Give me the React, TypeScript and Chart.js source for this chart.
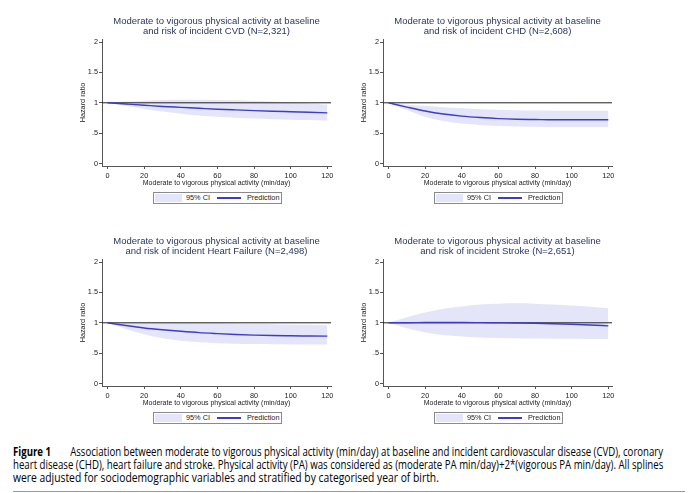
import React, { useEffect, useLayoutEffect, useRef } from "react";
import { Chart, registerables } from "chart.js";

Chart.register(...registerables);

// ---------- data ----------
const xValues = [0, 10, 20, 30, 40, 50, 60, 70, 80, 90, 100, 110, 120];
const xTickStep = 20;
const yTickStep = 0.5;

const cvdPred = [1.0, 0.98, 0.96, 0.94, 0.925, 0.91, 0.895, 0.883, 0.872, 0.862, 0.853, 0.844, 0.835];
const cvdUpper = [1.0, 1.02, 1.035, 1.045, 1.05, 1.05, 1.045, 1.04, 1.03, 1.02, 1.005, 0.99, 0.97];
const cvdLower = [1.0, 0.95, 0.9, 0.855, 0.82, 0.79, 0.77, 0.755, 0.74, 0.73, 0.72, 0.715, 0.71];

const chdPred = [1.0, 0.93, 0.865, 0.815, 0.78, 0.757, 0.74, 0.73, 0.725, 0.72, 0.72, 0.72, 0.72];
const chdUpper = [1.0, 0.97, 0.95, 0.925, 0.91, 0.895, 0.885, 0.878, 0.873, 0.87, 0.87, 0.87, 0.87];
const chdLower = [1.0, 0.88, 0.77, 0.7, 0.66, 0.635, 0.62, 0.61, 0.605, 0.6, 0.6, 0.6, 0.6];

const hfPred = [1.0, 0.955, 0.915, 0.885, 0.86, 0.838, 0.822, 0.808, 0.798, 0.79, 0.786, 0.783, 0.78];
const hfUpper = [1.0, 1.0, 1.0, 1.0, 1.0, 0.998, 0.995, 0.99, 0.985, 0.978, 0.972, 0.966, 0.96];
const hfLower = [1.0, 0.9, 0.81, 0.745, 0.705, 0.68, 0.665, 0.655, 0.65, 0.647, 0.645, 0.645, 0.645];

const strokePred = [1.0, 1.0, 1.005, 1.005, 1.005, 1.003, 1.0, 0.997, 0.993, 0.985, 0.975, 0.963, 0.95];
const strokeUpper = [1.0, 1.09, 1.17, 1.23, 1.27, 1.3, 1.315, 1.32, 1.315, 1.3, 1.285, 1.265, 1.24];
const strokeLower = [1.0, 0.91, 0.84, 0.8, 0.775, 0.76, 0.75, 0.745, 0.74, 0.738, 0.736, 0.735, 0.735];

const titleLine1 = "Moderate to vigorous physical activity at baseline";
const cvdTitle2 = "and risk of incident CVD (N=2,321)";
const chdTitle2 = "and risk of incident CHD (N=2,608)";
const hfTitle2 = "and risk of incident Heart Failure (N=2,498)";
const strokeTitle2 = "and risk of incident Stroke (N=2,651)";

const xAxisTitle = "Moderate to vigorous physical activity (min/day)";
const yAxisTitle = "Hazard ratio";
const legendBandLabel = "95% CI";
const legendLineLabel = "Prediction";

const captionBold = "Figure 1";
const captionLine1 =
  "Association between moderate to vigorous physical activity (min/day) at baseline and incident cardiovascular disease (CVD), coronary";
const captionLine2 =
  "heart disease (CHD), heart failure and stroke. Physical activity (PA) was considered as (moderate PA min/day)+2*(vigorous PA min/day). All splines";
const captionLine3 =
  "were adjusted for sociodemographic variables and stratified by categorised year of birth.";

// ---------- style ----------
const X_MIN = -3;
const X_MAX = 122;
const Y_MIN = -0.04;
const Y_MAX = 2.05;
const BAND = "rgb(228,229,248)";
const LINE = "#3c3cc8";
const REF = "#222222";
const AXIS = "#555555";
const TEXT = "#222222";
const TITLE = "#283761";
const FONT = "'Liberation Sans', Arial, sans-serif";

const fmtY = (v: number) => {
  const s = String(Math.abs(v) < 1e-9 ? 0 : v);
  return s.replace(/^0\./, ".");
};

type PanelProps = {
  left: number;
  top: number;
  title2: string;
  pred: number[];
  upper: number[];
  lower: number[];
};

function Panel({ left, top, title2, pred, upper, lower }: PanelProps) {
  const ref = useRef<HTMLCanvasElement | null>(null);
  useEffect(() => {
    if (!ref.current) return;
    const toPts = (ys: number[]) => xValues.map((x, i) => ({ x, y: ys[i] }));
    const chart = new Chart(ref.current, {
      type: "line",
      data: {
        datasets: [
          {
            label: "upper",
            data: toPts(upper),
            borderWidth: 0,
            borderColor: "rgba(0,0,0,0)",
            pointRadius: 0,
            fill: false,
            order: 3,
            cubicInterpolationMode: "monotone",
          },
          {
            label: legendBandLabel,
            data: toPts(lower),
            borderWidth: 0,
            borderColor: "rgba(0,0,0,0)",
            backgroundColor: BAND,
            pointRadius: 0,
            fill: "-1",
            order: 3,
            cubicInterpolationMode: "monotone",
          },
          {
            label: "ref",
            data: [
              { x: X_MIN, y: 1 },
              { x: X_MAX, y: 1 },
            ],
            borderColor: REF,
            borderWidth: 1,
            pointRadius: 0,
            fill: false,
            order: 2,
          },
          {
            label: legendLineLabel,
            data: toPts(pred),
            borderColor: LINE,
            borderWidth: 1.4,
            pointRadius: 0,
            fill: false,
            order: 1,
            cubicInterpolationMode: "monotone",
          },
        ],
      },
      options: {
        responsive: false,
        animation: false,
        events: [],
        layout: { padding: { left: 75, right: 14, top: 0, bottom: 0 } },
        plugins: {
          legend: { display: false },
          tooltip: { enabled: false },
          filler: { drawTime: "beforeDatasetsDraw" },
          title: {
            display: true,
            text: [titleLine1, title2],
            fullSize: false,
            color: TITLE,
            font: { family: FONT, size: 9.5, weight: "normal", lineHeight: "10px" },
            padding: { top: 16.5, bottom: 2.5 },
          },
        },
        scales: {
          x: {
            type: "linear",
            min: X_MIN,
            max: X_MAX,
            afterFit: (s: any) => {
              s.height = 24;
            },
            grid: { drawOnChartArea: false, tickLength: 3, color: AXIS },
            border: { color: AXIS, width: 1 },
            ticks: {
              stepSize: xTickStep,
              includeBounds: false,
              padding: 3,
              maxRotation: 0,
              autoSkip: false,
              color: TEXT,
              font: { family: FONT, size: 7.3 },
              callback: (v: any) => String(v),
            },
            title: {
              display: true,
              text: xAxisTitle,
              color: TEXT,
              font: { family: FONT, size: 7 },
              padding: { top: 0, bottom: 3 },
            },
          },
          y: {
            type: "linear",
            min: Y_MIN,
            max: Y_MAX,
            afterFit: (s: any) => {
              s.width = 27;
            },
            grid: { drawOnChartArea: false, tickLength: 3, color: AXIS },
            border: { color: AXIS, width: 1 },
            ticks: {
              stepSize: yTickStep,
              includeBounds: false,
              padding: 1,
              color: TEXT,
              font: { family: FONT, size: 7.3 },
              callback: (v: any) => fmtY(Number(v)),
            },
            title: {
              display: true,
              text: yAxisTitle,
              color: TEXT,
              font: { family: FONT, size: 7.3 },
              padding: { top: 4, bottom: 0 },
            },
          },
        },
      },
    } as any);
    return () => chart.destroy();
  }, []);

  return (
    <>
      <canvas
        ref={ref}
        width={345}
        height={190}
        style={{ position: "absolute", left, top, width: 345, height: 190, display: "block" }}
      />
      <div
        style={{
          position: "absolute",
          left: left + 153,
          top: top + 192,
          width: 129,
          height: 12,
          border: "1px solid #8a8a8a",
          boxSizing: "border-box",
          fontFamily: FONT,
          fontSize: 7.3,
          color: TEXT,
          lineHeight: "10px",
        }}
      >
        <div style={{ position: "absolute", left: 1, top: 1, width: 27, height: 8, background: BAND }} />
        <div style={{ position: "absolute", left: 32, top: 0, whiteSpace: "nowrap" }}>{legendBandLabel}</div>
        <div style={{ position: "absolute", left: 63, top: 4, width: 24, height: 1.5, background: LINE }} />
        <div style={{ position: "absolute", left: 93, top: 0, whiteSpace: "nowrap" }}>{legendLineLabel}</div>
      </div>
    </>
  );
}

function FitLine({ width, children, top }: { width: number; top: number; children: React.ReactNode }) {
  const ref = useRef<HTMLDivElement | null>(null);
  useLayoutEffect(() => {
    const el = ref.current;
    if (!el) return;
    el.style.transform = "none";
    const w = el.scrollWidth;
    if (w > 0) el.style.transform = `scaleX(${width / w})`;
  }, [width]);
  return (
    <div
      ref={ref}
      style={{
        position: "absolute",
        left: 13,
        top,
        whiteSpace: "nowrap",
        display: "inline-block",
        transformOrigin: "0 0",
        height: 13,
        lineHeight: "13px",
      }}
    >
      {children}
    </div>
  );
}

export default function App() {
  return (
    <div
      style={{
        position: "absolute",
        left: 0,
        top: 0,
        width: 690,
        height: 493,
        background: "#ffffff",
        overflow: "hidden",
      }}
    >
      <Panel left={0} top={0} title2={cvdTitle2} pred={cvdPred} upper={cvdUpper} lower={cvdLower} />
      <Panel left={281} top={0} title2={chdTitle2} pred={chdPred} upper={chdUpper} lower={chdLower} />
      <Panel left={0} top={220} title2={hfTitle2} pred={hfPred} upper={hfUpper} lower={hfLower} />
      <Panel left={281} top={220} title2={strokeTitle2} pred={strokePred} upper={strokeUpper} lower={strokeLower} />
      <div style={{ fontFamily: "'Open Sans', 'Noto Sans', sans-serif", fontSize: 12, color: "#000" }}>
        <FitLine width={650} top={445}>
          <span style={{ fontWeight: 700 }}>{captionBold}</span>
          <span style={{ display: "inline-block", width: 24 }} />
          <span>{captionLine1}</span>
        </FitLine>
        <FitLine width={650} top={458}>
          {captionLine2}
        </FitLine>
        <FitLine width={426} top={471}>
          {captionLine3}
        </FitLine>
      </div>
      <div style={{ position: "absolute", left: 13, top: 491, width: 672, height: 1, background: "#9a9a9a" }} />
    </div>
  );
}
